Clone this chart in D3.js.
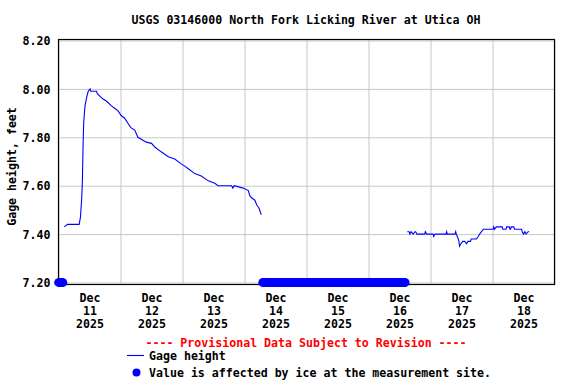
<!DOCTYPE html>
<html>
<head>
<meta charset="utf-8">
<script src="https://cdn.jsdelivr.net/npm/d3@7"></script>
<style>
  body { margin: 0; background: #fff; }
  svg { display: block; }
  text { font-family: "DejaVu Sans Mono", monospace; font-weight: bold; font-size: 11.6px; }
</style>
</head>
<body>
<svg id="chart" width="576" height="384"></svg>
<script>
// gage height readings (time, feet)
var gageSeg1 = [
  ["2025-12-11 02:15", 7.43], ["2025-12-11 03:30", 7.44], ["2025-12-11 08:00", 7.44],
  ["2025-12-11 08:30", 7.47], ["2025-12-11 09:00", 7.55], ["2025-12-11 09:15", 7.62],
  ["2025-12-11 09:30", 7.76], ["2025-12-11 09:45", 7.86], ["2025-12-11 10:15", 7.93],
  ["2025-12-11 11:00", 7.97], ["2025-12-11 11:30", 7.99], ["2025-12-11 12:15", 8.00],
  ["2025-12-11 12:30", 7.99], ["2025-12-11 14:45", 7.99], ["2025-12-11 15:00", 7.98],
  ["2025-12-11 16:00", 7.97], ["2025-12-11 17:00", 7.96], ["2025-12-11 18:30", 7.95],
  ["2025-12-11 20:30", 7.93], ["2025-12-11 21:45", 7.92], ["2025-12-11 23:00", 7.91],
  ["2025-12-12 00:15", 7.89], ["2025-12-12 01:30", 7.88], ["2025-12-12 02:45", 7.86],
  ["2025-12-12 04:00", 7.84], ["2025-12-12 05:30", 7.83], ["2025-12-12 06:45", 7.80],
  ["2025-12-12 10:00", 7.78], ["2025-12-12 12:00", 7.775], ["2025-12-12 13:15", 7.76],
  ["2025-12-12 15:45", 7.74], ["2025-12-12 18:30", 7.72], ["2025-12-12 21:00", 7.71],
  ["2025-12-12 23:30", 7.69], ["2025-12-13 01:00", 7.68], ["2025-12-13 02:15", 7.67],
  ["2025-12-13 04:45", 7.65], ["2025-12-13 07:15", 7.64], ["2025-12-13 10:00", 7.62],
  ["2025-12-13 12:30", 7.61], ["2025-12-13 13:45", 7.60], ["2025-12-13 19:00", 7.60],
  ["2025-12-13 19:30", 7.59], ["2025-12-13 20:00", 7.60], ["2025-12-13 23:30", 7.59],
  ["2025-12-14 01:30", 7.58], ["2025-12-14 02:00", 7.56], ["2025-12-14 02:45", 7.55],
  ["2025-12-14 04:00", 7.54], ["2025-12-14 04:45", 7.52], ["2025-12-14 05:30", 7.51],
  ["2025-12-14 06:30", 7.48]
];

var gageSeg2 = [
  ["2025-12-16 15:00", 7.41], ["2025-12-16 15:45", 7.41], ["2025-12-16 16:00", 7.40],
  ["2025-12-16 16:30", 7.41], ["2025-12-16 17:15", 7.40], ["2025-12-16 18:00", 7.41],
  ["2025-12-16 18:15", 7.41], ["2025-12-16 18:45", 7.40], ["2025-12-16 21:45", 7.40],
  ["2025-12-16 22:00", 7.41], ["2025-12-16 22:30", 7.40], ["2025-12-17 01:00", 7.40],
  ["2025-12-17 01:15", 7.39], ["2025-12-17 01:45", 7.40], ["2025-12-17 06:00", 7.40],
  ["2025-12-17 06:15", 7.41], ["2025-12-17 06:30", 7.40], ["2025-12-17 09:30", 7.40],
  ["2025-12-17 09:45", 7.41], ["2025-12-17 10:00", 7.40], ["2025-12-17 10:45", 7.38],
  ["2025-12-17 11:00", 7.37], ["2025-12-17 11:15", 7.35], ["2025-12-17 11:45", 7.36],
  ["2025-12-17 12:30", 7.37], ["2025-12-17 13:15", 7.37], ["2025-12-17 14:00", 7.36],
  ["2025-12-17 14:30", 7.37], ["2025-12-17 15:30", 7.37], ["2025-12-17 15:45", 7.38],
  ["2025-12-17 17:45", 7.38], ["2025-12-17 18:30", 7.39], ["2025-12-17 19:00", 7.40],
  ["2025-12-17 19:45", 7.41], ["2025-12-17 20:30", 7.42], ["2025-12-18 00:15", 7.42],
  ["2025-12-18 00:30", 7.43], ["2025-12-18 00:45", 7.42], ["2025-12-18 01:30", 7.43],
  ["2025-12-18 03:45", 7.43], ["2025-12-18 04:00", 7.42], ["2025-12-18 05:15", 7.42],
  ["2025-12-18 05:30", 7.43], ["2025-12-18 06:30", 7.43], ["2025-12-18 06:45", 7.42],
  ["2025-12-18 07:00", 7.42], ["2025-12-18 07:15", 7.43], ["2025-12-18 08:15", 7.43],
  ["2025-12-18 08:30", 7.42], ["2025-12-18 11:15", 7.42], ["2025-12-18 11:30", 7.41],
  ["2025-12-18 12:00", 7.40], ["2025-12-18 12:30", 7.41], ["2025-12-18 13:00", 7.40],
  ["2025-12-18 13:45", 7.41], ["2025-12-18 14:15", 7.41]
];

// periods flagged as ice affected (marked at the bottom of the plot)
var iceIntervals = [
  ["2025-12-11 00:00", "2025-12-11 01:45"],
  ["2025-12-14 07:00", "2025-12-16 14:15"]
];
var iceLevel = 7.20;

var yTicks = [7.20, 7.40, 7.60, 7.80, 8.00, 8.20];
var dayLabels = ["11", "12", "13", "14", "15", "16", "17", "18"];

var title = "USGS 03146000 North Fork Licking River at Utica OH";
var yTitle = "Gage height, feet";

var parse = d3.timeParse("%Y-%m-%d %H:%M");
var svg = d3.select("#chart");

// note: "top" clashes with window.top, so use plot* names
var plotLeft = 58.5, plotRight = 554.5, plotTop = 39.5, plotBottom = 284.5;

var x = d3.scaleTime()
  .domain([parse("2025-12-11 00:00"), parse("2025-12-19 00:00")])
  .range([plotLeft, plotRight]);

var y = d3.scaleLinear()
  .domain([7.2, 8.2])
  .range([282.5, 40.5]);

// grid
svg.append("g")
  .attr("transform", "translate(0," + plotBottom + ")")
  .call(d3.axisBottom(x).ticks(d3.timeDay.every(1)).tickSize(-(plotBottom - plotTop)).tickFormat(""))
  .call(g => g.select(".domain").remove())
  .call(g => g.selectAll("line").attr("stroke", "#c8c8c8"));

svg.append("g")
  .attr("transform", "translate(" + plotLeft + ",0)")
  .call(d3.axisLeft(y).tickValues(yTicks).tickSize(-(plotRight - plotLeft)).tickFormat(""))
  .call(g => g.select(".domain").remove())
  .call(g => g.selectAll("line").attr("stroke", "#c8c8c8"));

// y labels
svg.append("g")
  .attr("transform", "translate(" + plotLeft + ",0)")
  .call(d3.axisLeft(y).tickValues(yTicks).tickSize(0).tickPadding(8).tickFormat(d3.format(".2f")))
  .call(g => g.select(".domain").remove())
  .call(g => g.attr("font-family", null).attr("font-size", null))
  .call(g => g.selectAll("text").attr("fill", "#000").attr("dy", "0.36em"));

// x labels: Dec / day / year at noon
var noonTicks = dayLabels.map(d => parse("2025-12-" + d + " 12:00"));
var xLab = svg.append("g")
  .attr("transform", "translate(0," + plotBottom + ")")
  .call(d3.axisBottom(x).tickValues(noonTicks).tickSize(0).tickFormat(""));
xLab.select(".domain").remove();
xLab.attr("font-family", null).attr("font-size", null);
xLab.selectAll(".tick text").each(function(d) {
  var t = d3.select(this).attr("y", null).attr("dy", null).attr("fill", "#000");
  t.append("tspan").attr("x", 0).attr("y", 17.5).text("Dec");
  t.append("tspan").attr("x", 0).attr("y", 30.5).text(d3.timeFormat("%d")(d));
  t.append("tspan").attr("x", 0).attr("y", 43.5).text("2025");
});

// frame
svg.append("rect")
  .attr("x", plotLeft).attr("y", plotTop)
  .attr("width", plotRight - plotLeft).attr("height", plotBottom - plotTop)
  .attr("fill", "none").attr("stroke", "#000").attr("stroke-width", 1.2);

// gage height line
var line = d3.line()
  .x(d => x(parse(d[0])))
  .y(d => y(d[1]));

[gageSeg1, gageSeg2].forEach(seg => {
  svg.append("path")
    .datum(seg)
    .attr("d", line)
    .attr("fill", "none")
    .attr("stroke", "#0000ff")
    .attr("stroke-width", 1.1);
});

// ice markers, one per 15 minute reading
var icePoints = [];
iceIntervals.forEach(iv => {
  var a = parse(iv[0]), b = parse(iv[1]);
  d3.timeMinute.every(15).range(a, new Date(+b + 1)).forEach(t => icePoints.push(t));
});
svg.append("g").selectAll("circle")
  .data(icePoints)
  .enter().append("circle")
  .attr("cx", d => x(d))
  .attr("cy", y(iceLevel))
  .attr("r", 4.3)
  .attr("fill", "#0000ff");

// titles
svg.append("text")
  .attr("x", 306).attr("y", 24)
  .attr("text-anchor", "middle")
  .text(title);

svg.append("text")
  .attr("transform", "translate(15.5,166.5) rotate(-90)")
  .attr("text-anchor", "middle")
  .text(yTitle);

// legend
svg.append("text")
  .attr("x", 306).attr("y", 346.5)
  .attr("text-anchor", "middle")
  .attr("fill", "#ff0000")
  .text("---- Provisional Data Subject to Revision ----");

svg.append("line")
  .attr("x1", 127).attr("x2", 144)
  .attr("y1", 355.5).attr("y2", 355.5)
  .attr("stroke", "#0000ff").attr("stroke-width", 1.1);
svg.append("text").attr("x", 149).attr("y", 360).text("Gage height");

svg.append("circle")
  .attr("cx", 136.5).attr("cy", 372.5).attr("r", 4)
  .attr("fill", "#0000ff");
svg.append("text").attr("x", 149).attr("y", 376.5).text("Value is affected by ice at the measurement site.");
</script>
</body>
</html>
